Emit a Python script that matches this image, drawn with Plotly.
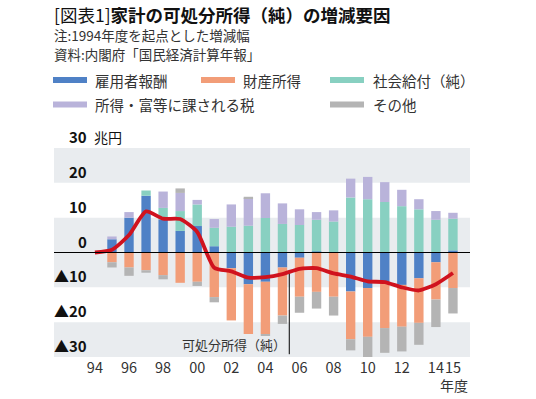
import plotly.graph_objects as go

years = list(range(1994, 2016))
compensation = [0, 3.8, 10.0, 16.3, 9.5, 6.2, 7.6, 1.8, -4.5, -9.1, -8.4, -4.3, -1.5, 0.3, 0, -11.2, -10.2, -8.8, -9.3, -7.4, -2.8, 0.6]
property_income = [0, -2.8, -4.3, -5.1, -6.5, -8.7, -8.4, -12.8, -15.0, -14.3, -15.0, -13.8, -11.2, -11.3, -12.7, -13.7, -14.0, -12.9, -12.0, -12.8, -10.7, -10.2]
social_benefits = [0, 0, 0, 1.5, 3.3, 5.7, 6.2, 5.3, 7.4, 7.7, 9.9, 8.2, 7.9, 9.1, 8.9, 15.8, 15.3, 14.5, 13.3, 12.4, 9.4, 9.1]
taxes = [0, 0.8, 1.6, 0, 4.7, 5.2, 1.3, 2.5, 6.4, 7.9, 7.1, 5.9, 4.5, 2.2, 3.2, 5.4, 6.4, 5.7, 4.7, 2.9, 2.5, 1.7]
others = [0, -1.5, -2.4, -0.7, -1.2, 1.3, -1.2, -1.5, 0, 0.4, -0.4, -2.4, -4.6, -4.8, -5.4, -3.2, -5.8, -7.1, -7.1, -6.3, -7.9, -7.3]
disposable = [0, 0.8, 5.0, 11.8, 9.7, 9.6, 5.9, -4.4, -5.4, -7.2, -7.1, -6.2, -4.7, -4.5, -6.0, -6.9, -8.3, -8.5, -10.0, -10.9, -9.1, -5.9]

series_names = ["雇用者報酬", "財産所得", "社会給付（純）", "所得・富等に課される税", "その他"]
series_values = [compensation, property_income, social_benefits, taxes, others]
series_colors = ["#4F81C6", "#F29D78", "#88D0C1", "#B9B3DA", "#B4B4B4"]

xtick_vals = [1994, 1996, 1998, 2000, 2002, 2004, 2006, 2008, 2010, 2012, 2014, 2015]
xtick_text = ["94", "96", "98", "00", "02", "04", "06", "08", "10", "12", "14", "15"]
ytick_vals = [30, 20, 10, 0, -10, -20, -30]
ytick_text = ["30", "20", "10", "0", "▲10", "▲20", "▲30"]

FONT = "Noto Sans CJK JP"
W, H = 536, 399
L, R, T, B = 54, 470, 148, 357


def px(p):
    return (p - L) / (R - L)


def py(p):
    return (B - p) / (B - T)


fig = go.Figure()
for name, vals, col in zip(series_names, series_values, series_colors):
    fig.add_trace(go.Bar(x=years, y=vals, name=name, marker_color=col,
                         marker_line_width=0, width=0.55, showlegend=False))

fig.add_trace(go.Scatter(x=years, y=disposable, mode="lines", name="可処分所得（純）",
                         line=dict(color="#D0121E", width=3.8, shape="spline", smoothing=0.6),
                         showlegend=False))

shapes = []
# background bands
for y0, y1 in [(20, 30), (-10, 10), (-30, -20)]:
    shapes.append(dict(type="rect", xref="paper", yref="y", x0=0, x1=1, y0=y0, y1=y1,
                       fillcolor="#E9ECEF", line_width=0, layer="below"))
# zero line
shapes.append(dict(type="line", xref="paper", yref="y", x0=0, x1=1, y0=0, y1=0,
                   line=dict(color="black", width=1.2), layer="above"))
# leader line for annotation
shapes.append(dict(type="line", xref="x", yref="y", x0=2005.4, x1=2005.4, y0=-5.6, y1=-29.2,
                   line=dict(color="black", width=1), layer="below"))

annotations = []
# legend (manual)
legend_pos = [(53, 93, 80), (201, 241, 80), (330, 371, 80), (53, 93, 104.5), (330, 371, 104.5)]
for (sx, tx, cy), name, col in zip(legend_pos, series_names, series_colors):
    shapes.append(dict(type="rect", xref="paper", yref="paper",
                       x0=px(sx), x1=px(sx + 34), y0=py(cy + 3), y1=py(cy - 3),
                       fillcolor=col, line_width=0))
    annotations.append(dict(text=name, xref="paper", yref="paper", x=px(tx), y=py(cy),
                            xanchor="left", yanchor="middle", showarrow=False,
                            font=dict(family=FONT, size=14.5, color="#333333")))

# title and notes
annotations.append(dict(text="[図表1]<b>家計の可処分所得（純）の増減要因</b>", xref="paper", yref="paper",
                        x=px(52), y=py(15), xanchor="left", yanchor="middle", showarrow=False,
                        font=dict(family=FONT, size=17.5, color="#111111")))
annotations.append(dict(text="注:1994年度を起点とした増減幅", xref="paper", yref="paper",
                        x=px(52), y=py(34.5), xanchor="left", yanchor="middle", showarrow=False,
                        font=dict(family=FONT, size=13.5, color="#333333")))
annotations.append(dict(text="資料:内閣府「国民経済計算年報」", xref="paper", yref="paper",
                        x=px(52), y=py(53.5), xanchor="left", yanchor="middle", showarrow=False,
                        font=dict(family=FONT, size=13.5, color="#333333")))

# y tick labels (inside plot, above the gridline)
for v, t in zip(ytick_vals, ytick_text):
    annotations.append(dict(text="<b>" + t + "</b>", xref="paper", yref="y", x=px(89), y=v,
                            xanchor="right", yanchor="bottom", showarrow=False, yshift=-1,
                            font=dict(family=FONT, size=15, color="#111111")))
annotations.append(dict(text="兆円", xref="paper", yref="y", x=px(92), y=30,
                        xanchor="left", yanchor="bottom", showarrow=False, yshift=-1,
                        font=dict(family=FONT, size=14, color="#111111")))

annotations.append(dict(text="可処分所得（純）", xref="x", yref="y", x=2005.3, y=-26.4,
                        xanchor="right", yanchor="middle", showarrow=False,
                        font=dict(family=FONT, size=13, color="#333333")))
annotations.append(dict(text="年度", xref="paper", yref="paper", x=px(470), y=py(385),
                        xanchor="right", yanchor="middle", showarrow=False,
                        font=dict(family=FONT, size=14, color="#333333")))

fig.update_layout(
    width=W, height=H,
    margin=dict(l=L, r=W - R, t=T, b=H - B, pad=0, autoexpand=False),
    barmode="relative",
    plot_bgcolor="white", paper_bgcolor="white",
    shapes=shapes, annotations=annotations,
    font=dict(family=FONT),
    xaxis=dict(range=[1991.6, 2016.0], tickvals=xtick_vals, ticktext=xtick_text,
               showgrid=False, zeroline=False, showline=False, ticks="",
               tickangle=0, automargin=False,
               tickfont=dict(family=FONT, size=14.5, color="#333333")),
    yaxis=dict(range=[-30, 30], showticklabels=False, showgrid=False, zeroline=False,
               showline=False, ticks="", automargin=False),
)

fig.write_html("out.html", config={"displayModeBar": False},
               post_script="document.body.style.margin='0';document.body.style.overflow='hidden';")
